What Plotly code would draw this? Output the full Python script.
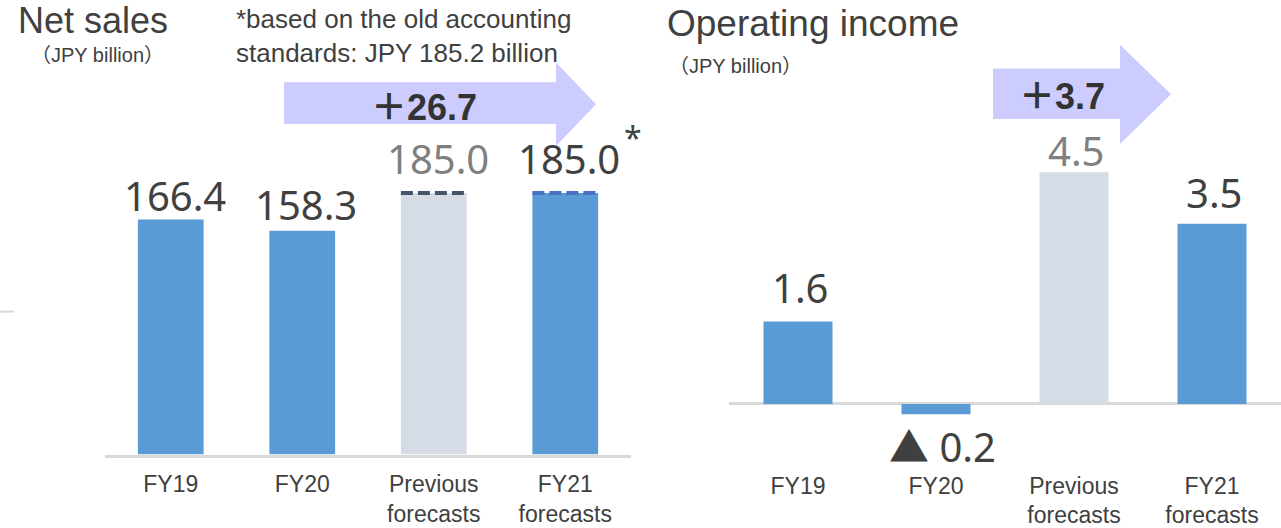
import plotly.graph_objects as go

# ---------------- data ----------------
categories = ["FY19", "FY20", "Previous<br>forecasts", "FY21<br>forecasts"]
net_sales = [166.4, 158.3, 185.0, 185.0]
op_income = [1.6, -0.2, 4.5, 3.5]
bar_kind = ["actual", "actual", "previous", "actual"]
net_sales_change = 26.7
op_income_change = 3.7
footnote = "*based on the old accounting<br>standards: JPY 185.2 billion"
title_left = "Net sales"
title_right = "Operating income"
unit_text = "（JPY billion）"

# ---------------- styles ----------------
W, H = 1281, 528
BLUE = "#5B9BD5"
GREY_BAR = "#D6DCE5"
TXT = "#404040"
TXT_GREY = "#7F7F7F"
ARROW = "#CCCCFF"
AXIS = "#D9D9D9"
bar_colors = {"actual": BLUE, "previous": GREY_BAR}
label_colors = {"actual": TXT, "previous": TXT_GREY}
dash_colors = {"actual": "#4472C4", "previous": "#44546A"}

def px(x):
    return x / W

def py(y):
    return 1 - y / H

# plot geometry (pixels)
PLOT_TOP, PLOT_BOTTOM = 60, 458
L_X0, L_X1 = 105, 631
R_X0, R_X1 = 729, 1281
L_SCALE = 1.424          # px per JPY bn
R_ZERO, R_SCALE = 407, 51.9

fig = go.Figure()

fig.add_trace(go.Bar(
    x=list(range(len(categories))), y=net_sales,
    marker=dict(color=[bar_colors[k] for k in bar_kind], line=dict(width=0)),
    width=0.5, xaxis="x", yaxis="y", hoverinfo="skip"))

fig.add_trace(go.Bar(
    x=list(range(len(categories))), y=op_income,
    marker=dict(color=[bar_colors[k] for k in bar_kind], line=dict(width=0)),
    width=0.5, xaxis="x2", yaxis="y2", hoverinfo="skip"))

# dashed tops on the forecast bars of net sales
for i in (2, 3):
    fig.add_trace(go.Scatter(
        x=[i - 0.25, i + 0.25], y=[net_sales[i], net_sales[i]],
        mode="lines", line=dict(color=dash_colors[bar_kind[i]], width=4, dash="12px,5px"),
        xaxis="x", yaxis="y", hoverinfo="skip"))

annotations = []

# value labels
left_shift = [23.5, 26, 35, 35]
for i, v in enumerate(net_sales):
    annotations.append(dict(
        x=i, y=v, xref="x", yref="y", text=f"{v:.1f}", showarrow=False,
        xshift=4, yshift=left_shift[i], yanchor="middle",
        font=dict(family="Noto Sans", size=40, color=label_colors[bar_kind[i]])))
annotations.append(dict(x=3, y=net_sales[3], xref="x", yref="y", text="*", showarrow=False,
                        xshift=68, yshift=56, font=dict(family="Noto Sans", size=32, color=TXT)))

right_shift = [34, -32, 22, 31]
for i, v in enumerate(op_income):
    txt = f"{v:.1f}" if v >= 0 else f"▲ {abs(v):.1f}"
    annotations.append(dict(
        x=i, y=v, xref="x2", yref="y2", text=txt, showarrow=False,
        xshift=(2 if v >= 0 else 6), yshift=right_shift[i], yanchor="middle",
        font=dict(family="Noto Sans, Noto Sans CJK JP", size=40, color=label_colors[bar_kind[i]])))

# titles and notes
annotations += [
    dict(x=px(16), y=py(21), xref="paper", yref="paper", text=title_left, showarrow=False,
         xanchor="left", yanchor="middle", font=dict(family="Liberation Sans", size=36, color=TXT)),
    dict(x=px(29), y=py(55), xref="paper", yref="paper", text=unit_text, showarrow=False,
         xanchor="left", yanchor="middle", font=dict(family="Liberation Sans, Noto Sans CJK JP", size=20, color=TXT)),
    dict(x=px(665), y=py(24), xref="paper", yref="paper", text=title_right, showarrow=False,
         xanchor="left", yanchor="middle", font=dict(family="Liberation Sans", size=37, color=TXT)),
    dict(x=px(667), y=py(66), xref="paper", yref="paper", text=unit_text, showarrow=False,
         xanchor="left", yanchor="middle", font=dict(family="Liberation Sans, Noto Sans CJK JP", size=20, color=TXT)),
    dict(x=px(234), y=py(36), xref="paper", yref="paper", text=footnote, showarrow=False,
         xanchor="left", yanchor="middle", align="left",
         font=dict(family="Liberation Sans", size=26, color=TXT)),
    dict(x=px(424), y=py(108), xref="paper", yref="paper", text=f"＋{net_sales_change:.1f}",
         showarrow=False, xanchor="center", yanchor="middle",
         font=dict(family="Liberation Sans, Noto Sans CJK JP", size=36, color="#333333", weight="bold")),
    dict(x=px(1062), y=py(97), xref="paper", yref="paper", text=f"＋{op_income_change:.1f}",
         showarrow=False, xanchor="center", yanchor="middle",
         font=dict(family="Liberation Sans, Noto Sans CJK JP", size=36, color="#333333", weight="bold")),
]

def arrow_path(x0, xh, xt, yt, yb, ht, hb):
    ym = (ht + hb) / 2
    pts = [(x0, yt), (xh, yt), (xh, ht), (xt, ym), (xh, hb), (xh, yb), (x0, yb)]
    return "M " + " L ".join(f"{px(a):.5f},{py(b):.5f}" for a, b in pts) + " Z"

shapes = [
    dict(type="path", xref="paper", yref="paper", path=arrow_path(284, 556, 596, 83, 125, 63, 147),
         fillcolor=ARROW, line=dict(width=0), layer="below"),
    dict(type="path", xref="paper", yref="paper", path=arrow_path(993, 1120, 1171, 69, 120, 45, 145),
         fillcolor=ARROW, line=dict(width=0), layer="below"),
    dict(type="line", xref="paper", yref="paper", x0=0, x1=px(14), y0=py(314), y1=py(314),
         line=dict(color=AXIS, width=2)),
]

tickfont = dict(family="Liberation Sans", size=23, color=TXT)
dom_y = [py(PLOT_BOTTOM), py(PLOT_TOP)]

fig.update_layout(
    width=W, height=H, autosize=False,
    margin=dict(l=0, r=0, t=0, b=0),
    paper_bgcolor="white", plot_bgcolor="white",
    showlegend=False, bargap=0.5,
    annotations=annotations, shapes=shapes,
    xaxis=dict(domain=[px(L_X0), px(L_X1)], range=[-0.5, 3.5], tickvals=list(range(4)),
               ticktext=categories, tickfont=tickfont, showgrid=False, zeroline=False,
               showline=True, linecolor=AXIS, linewidth=2.5, ticks="", ticklabelstandoff=7,
               fixedrange=True),
    yaxis=dict(domain=dom_y, range=[0, (PLOT_BOTTOM - PLOT_TOP) / L_SCALE], visible=False),
    xaxis2=dict(domain=[px(R_X0), px(R_X1)], range=[-0.5, 3.5], tickvals=list(range(4)),
                ticktext=categories, tickfont=tickfont, showgrid=False, zeroline=False,
                showline=False, ticks="", ticklabelstandoff=15, anchor="y2"),
    yaxis2=dict(domain=dom_y, anchor="x2",
                range=[-(PLOT_BOTTOM - R_ZERO) / R_SCALE, (R_ZERO - PLOT_TOP) / R_SCALE],
                showgrid=False, showticklabels=False, ticks="", showline=False,
                zeroline=True, zerolinecolor=AXIS, zerolinewidth=2.5),
)

fig.write_html("out.html", config={"displayModeBar": False},
               post_script="document.body.style.margin='0';document.body.style.overflow='hidden';")
